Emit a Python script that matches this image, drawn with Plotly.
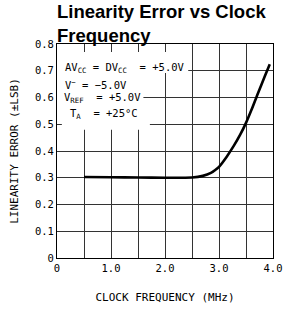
import plotly.graph_objects as go

# ---- data ----
freq_mhz = [0.5, 1.0, 1.5, 2.0, 2.5, 2.7, 2.85, 2.93, 3.0, 3.14, 3.27, 3.39, 3.5, 3.6, 3.72, 3.85, 3.94]
lin_err = [0.303, 0.302, 0.301, 0.300, 0.301, 0.307, 0.318, 0.329, 0.341, 0.378, 0.418, 0.460, 0.505, 0.553, 0.615, 0.680, 0.724]

x_tickvals = [0, 0.5, 1.0, 1.5, 2.0, 2.5, 3.0, 3.5, 4.0]
x_ticktext = ["0", "", "1.0", "", "2.0", "", "3.0", "", "4.0"]
y_tickvals = [0, 0.1, 0.2, 0.3, 0.4, 0.5, 0.6, 0.7, 0.8]
y_ticktext = ["0", "0.1", "0.2", "0.3", "0.4", "0.5", "0.6", "0.7", "0.8"]

cond_lines = [
    "AV<sub>CC</sub> = DV<sub>CC</sub>  = +5.0V",
    "V<sup>\u2212</sup> = \u22125.0V",
    "V<sub>REF</sub>  = +5.0V",
    "T<sub>A</sub>  = +25\u00b0C",
]
cond_x = [0.11, 0.11, 0.09, 0.2]
cond_y = [0.712, 0.65, 0.597, 0.54]

MONO = "DejaVu Sans Mono"

fig = go.Figure()
fig.add_trace(go.Scatter(
    x=freq_mhz, y=lin_err, mode="lines",
    line=dict(color="black", width=2.6, shape="spline", smoothing=0.7),
    hoverinfo="skip", showlegend=False,
))

# white backing behind condition text (hides grid lines)
for (x0, x1, y0, y1) in [(0, 2.43, 0.692, 0.770), (0, 1.6, 0.553, 0.692), (0.09, 1.72, 0.479, 0.553)]:
    fig.add_shape(type="rect", xref="x", yref="y", x0=x0, x1=x1, y0=y0, y1=y1,
                  fillcolor="white", line=dict(width=0), layer="between")

for t, xx, yy in zip(cond_lines, cond_x, cond_y):
    fig.add_annotation(text=t, x=xx, y=yy, xref="x", yref="y", xanchor="left",
                       yanchor="middle", showarrow=False,
                       font=dict(family=MONO, size=10.5, color="black"))

# title as a left-aligned two-line annotation
fig.add_annotation(text="Linearity Error vs Clock<br>Frequency",
                   xref="paper", yref="paper", x=-2 / 216, y=(214 + 45) / 214,
                   xanchor="left", yanchor="top", align="left", showarrow=False,
                   font=dict(family="Liberation Sans", size=18.5, color="black", weight="bold"))

axis_common = dict(
    showline=True, linecolor="black", linewidth=1, mirror=True,
    showgrid=True, gridcolor="#333", gridwidth=1, zeroline=False,
    ticks="", automargin=False,
    tickfont=dict(family=MONO, size=10.5, color="black"),
)

fig.update_xaxes(range=[0, 4], tickvals=x_tickvals, ticktext=x_ticktext,
                 title=dict(text="CLOCK FREQUENCY (MHz)", font=dict(family=MONO, size=11, color="black"),
                            standoff=20),
                 **axis_common)
fig.update_yaxes(range=[0, 0.8], tickvals=y_tickvals, ticktext=y_ticktext,
                 title=dict(text="LINEARITY ERROR (\u00b1LSB)", font=dict(family=MONO, size=11, color="black"),
                            standoff=14),
                 **axis_common)

fig.update_layout(
    width=283, height=312,
    margin=dict(l=57, r=10, t=44, b=54, autoexpand=False),
    paper_bgcolor="white", plot_bgcolor="white",
    showlegend=False,
)

fig.write_html("out.html", config={"displayModeBar": False},
               post_script="document.body.style.margin='0';")
